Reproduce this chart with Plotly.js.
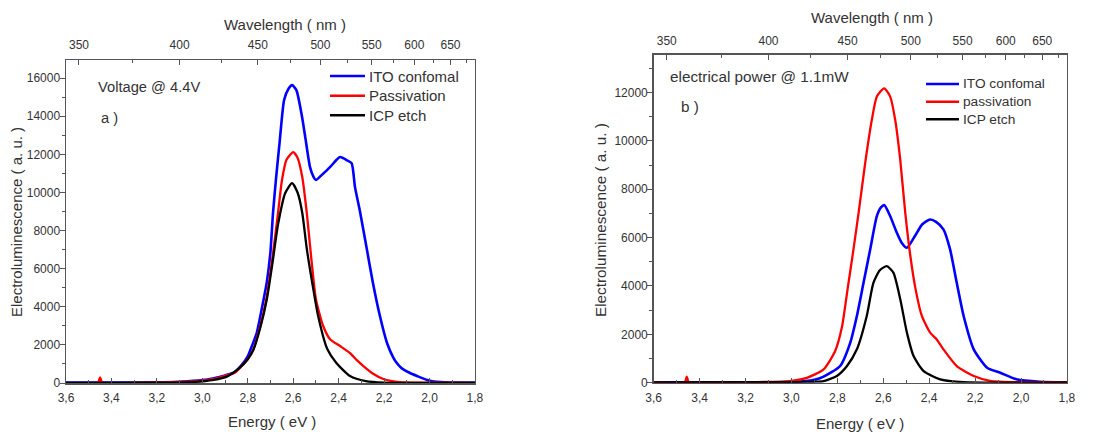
<!DOCTYPE html>
<html>
<head>
<meta charset="utf-8">
<script src="https://cdn.plot.ly/plotly-3.0.1.min.js"></script>
<style>html,body{margin:0;padding:0;background:#fff;}</style>
</head>
<body>
<div id="chart" style="width:1117px;height:432px;"></div>
<script>
// ---------- data: panel a (Voltage @ 4.4V) ----------
const blueA_E = [3.6,3.4,3.2,3.1,3.0,2.95,2.9,2.86,2.83,2.8,2.78,2.76,2.73,2.716,2.70,2.689,2.675,2.66,2.64,2.62,2.605,2.586,2.561,2.545,2.526,2.51,2.50,2.475,2.438,2.41,2.394,2.38,2.365,2.343,2.328,2.306,2.276,2.249,2.218,2.187,2.16,2.144,2.125,2.117,2.09,2.055,2.0,1.95,1.9,1.8];
const blueA_V = [20,25,40,70,150,250,400,560,900,1400,2000,2650,4400,5300,6900,8900,10800,12600,14850,15450,15630,15370,13960,12750,11330,10800,10650,10910,11330,11700,11860,11800,11700,11540,10280,9000,7030,5250,3500,2100,1350,1050,800,730,550,370,120,50,30,20];

const redA_E = [3.6,3.46,3.45,3.44,3.3,3.2,3.1,3.0,2.95,2.9,2.86,2.83,2.8,2.775,2.745,2.716,2.69,2.667,2.65,2.63,2.6,2.58,2.56,2.54,2.52,2.5,2.468,2.438,2.394,2.35,2.32,2.291,2.25,2.203,2.13,2.0,1.8];
const redA_V = [10,10,300,10,15,30,60,130,220,380,520,850,1260,1780,2990,4560,6700,8900,10600,11700,12120,11800,10800,8900,6500,4400,2990,2300,1940,1570,1200,890,500,210,40,15,10];

const blackA_E = [3.6,3.2,3.05,2.95,2.89,2.84,2.8,2.775,2.745,2.716,2.69,2.667,2.635,2.605,2.58,2.56,2.54,2.516,2.49,2.45,2.41,2.35,2.28,2.2,1.8];
const blackA_V = [10,20,50,170,350,750,1250,1750,2900,4400,6400,8300,9970,10490,9970,8920,7030,5250,3500,1780,1050,370,100,20,10];

// ---------- data: panel b (electrical power @ 1.1mW) ----------
const blueB_E = [3.6,3.2,3.0,2.9,2.86,2.788,2.744,2.715,2.686,2.657,2.628,2.61,2.595,2.57,2.541,2.52,2.497,2.46,2.43,2.396,2.37,2.338,2.309,2.28,2.25,2.206,2.148,2.09,2.02,1.918,1.8];
const blueB_V = [20,20,30,120,250,690,1650,2760,4130,5510,6890,7250,7340,6890,6200,5790,5580,6100,6550,6750,6650,6340,5510,4130,2760,1380,620,410,140,40,20];

const redB_E = [3.6,3.465,3.456,3.447,3.3,3.15,3.0,2.933,2.86,2.81,2.78,2.755,2.73,2.705,2.68,2.65,2.628,2.596,2.57,2.548,2.526,2.504,2.483,2.46,2.432,2.396,2.367,2.338,2.28,2.206,2.135,2.0,1.8];
const redB_V = [20,20,250,20,20,25,80,200,550,1300,2300,3900,5500,7200,9000,10860,11830,12170,11830,10860,9200,7000,5300,3900,2760,2070,1790,1380,690,280,80,20,20];

const blackB_E = [3.6,3.0,2.9,2.86,2.802,2.758,2.715,2.672,2.643,2.615,2.585,2.556,2.526,2.497,2.468,2.424,2.352,2.25,1.8];
const blackB_V = [10,20,40,70,280,690,1380,2760,4130,4650,4820,4550,3450,2070,1100,480,140,20,10];

// ---------- labels / ticks ----------
const waveMajor = [350,400,450,500,550,600,650];
const waveMinor = [375,425,475,525,575,625,675];
const namesA = ['ITO confomal','Passivation','ICP etch'];
const namesB = ['ITO confomal','passivation','ICP etch'];
const colors = ['#0000ff','#ff0000','#000000'];

const toE = w => 1240 / w;
const majE = waveMajor.map(toE);
const minE = waveMinor.map(toE);

function tr(x, y, name, color, xa, ya, w) {
  return {x: x, y: y, name: name, type: 'scatter', mode: 'lines',
    line: {color: color, width: w, shape: 'spline', smoothing: 0.6},
    xaxis: xa, yaxis: ya, showlegend: false, hoverinfo: 'skip'};
}

const data = [
  tr(blueA_E, blueA_V, namesA[0], colors[0], 'x', 'y', 2.6),
  tr(redA_E, redA_V, namesA[1], colors[1], 'x', 'y', 2.3),
  tr(blackA_E, blackA_V, namesA[2], colors[2], 'x', 'y', 2.3),
  tr(blueB_E, blueB_V, namesB[0], colors[0], 'x2', 'y2', 2.6),
  tr(redB_E, redB_V, namesB[1], colors[1], 'x2', 'y2', 2.3),
  tr(blackB_E, blackB_V, namesB[2], colors[2], 'x2', 'y2', 2.3),
  {x: [], y: [], xaxis: 'x3', yaxis: 'y', showlegend: false, type: 'scatter'},
  {x: [], y: [], xaxis: 'x4', yaxis: 'y2', showlegend: false, type: 'scatter'}
];

const txt = '#333333';
const axCol = '#555555';
const fontFam = 'Arial, "Liberation Sans", sans-serif';

function bottomX(domain, anchor) {
  return {domain: domain, anchor: anchor, range: [3.6, 1.8], tickmode: 'linear', tick0: 1.8, dtick: 0.2,
    tickformat: '.1f', ticks: 'inside', ticklen: 5, tickwidth: 1, tickcolor: axCol,
    minor: {dtick: 0.1, ticks: 'inside', ticklen: 3, tickcolor: axCol},
    showline: true, linecolor: axCol, linewidth: 1.5, mirror: true, showgrid: false, zeroline: false,
    tickfont: {size: 12, color: txt}, ticklabelstandoff: 3, fixedrange: true};
}
function topX(over, anchor, so) {
  return {overlaying: over, side: 'top', anchor: anchor, range: [3.6, 1.8], tickmode: 'array',
    tickvals: majE, ticktext: waveMajor.map(String), ticks: 'inside', ticklen: 5, tickwidth: 1, tickcolor: axCol,
    minor: {tickmode: 'array', tickvals: minE, ticks: 'inside', ticklen: 3, tickcolor: axCol},
    showline: false, showgrid: false, zeroline: false, tickfont: {size: 12, color: txt},
    ticklabelstandoff: so, fixedrange: true};
}
function leftY(domain, anchor, top) {
  return {domain: domain, anchor: anchor, range: [0, top], tickmode: 'linear', tick0: 0, dtick: 2000,
    tickformat: 'd', ticks: 'outside', ticklen: 5, tickwidth: 1, tickcolor: axCol,
    minor: {dtick: 1000, ticks: 'outside', ticklen: 3, tickcolor: axCol},
    showline: true, linecolor: axCol, linewidth: 1.5, mirror: true, showgrid: false, zeroline: false,
    tickfont: {size: 12, color: txt}, ticklabelstandoff: -3, fixedrange: true};
}

function ann(text, x, y, size, opts) {
  return Object.assign({text: text, xref: 'paper', yref: 'paper', x: x / 1117, y: 1 - y / 432,
    xanchor: 'left', yanchor: 'middle', showarrow: false, font: {size: size, color: txt}}, opts || {});
}

// manual legends (line sample + label)
const shapes = [];
const annotations = [];
const legA = {x0: 330, x1: 365, tx: 367, rows: [76, 95.7, 115.3], size: 15};
const legB = {x0: 926, x1: 959, tx: 961, rows: [84, 101.7, 119.3], size: 13.7};
[[legA, namesA], [legB, namesB]].forEach(([L, names]) => {
  names.forEach((n, i) => {
    shapes.push({type: 'line', xref: 'paper', yref: 'paper', x0: L.x0 / 1117, x1: L.x1 / 1117,
      y0: 1 - L.rows[i] / 432, y1: 1 - L.rows[i] / 432, line: {color: colors[i], width: 2.5}});
    annotations.push(ann(n, L.tx, L.rows[i], L.size));
  });
});

annotations.push(
  ann('Voltage @ 4.4V', 96, 87, 14.7),
  ann('a )', 99, 118, 14.7),
  ann('electrical power @ 1.1mW', 668, 76, 15.3),
  ann('b )', 679, 107, 15.3),
  // axis titles
  ann('Energy ( eV )', 272, 421, 15, {xanchor: 'center'}),
  ann('Energy ( eV )', 860, 423, 15, {xanchor: 'center'}),
  ann('Wavelength ( nm )', 285, 24, 15, {xanchor: 'center'}),
  ann('Wavelength ( nm )', 872, 17, 15, {xanchor: 'center'}),
  ann('Electroluminescence ( a. u. )', 17, 222, 15, {xanchor: 'center', textangle: -90}),
  ann('Electroluminescence ( a. u. )', 600, 220, 15.3, {xanchor: 'center', textangle: -90})
);

const layout = {
  width: 1117, height: 432, margin: {l: 0, r: 0, t: 0, b: 0},
  paper_bgcolor: '#ffffff', plot_bgcolor: '#ffffff',
  separators: ',.', showlegend: false,
  font: {family: fontFam, color: txt, size: 12},
  xaxis: bottomX([0.0591, 0.4252], 'y'),
  yaxis: leftY([0.1134, 0.8611], 'x', 16950),
  xaxis2: bottomX([0.5852, 0.9552], 'y2'),
  yaxis2: leftY([0.1141, 0.8727], 'x2', 13550),
  xaxis3: topX('x', 'y', 8),
  xaxis4: topX('x2', 'y2', 7),
  shapes: shapes,
  annotations: annotations
};

Plotly.newPlot('chart', data, layout, {displayModeBar: false, staticPlot: true});
</script>
</body>
</html>
